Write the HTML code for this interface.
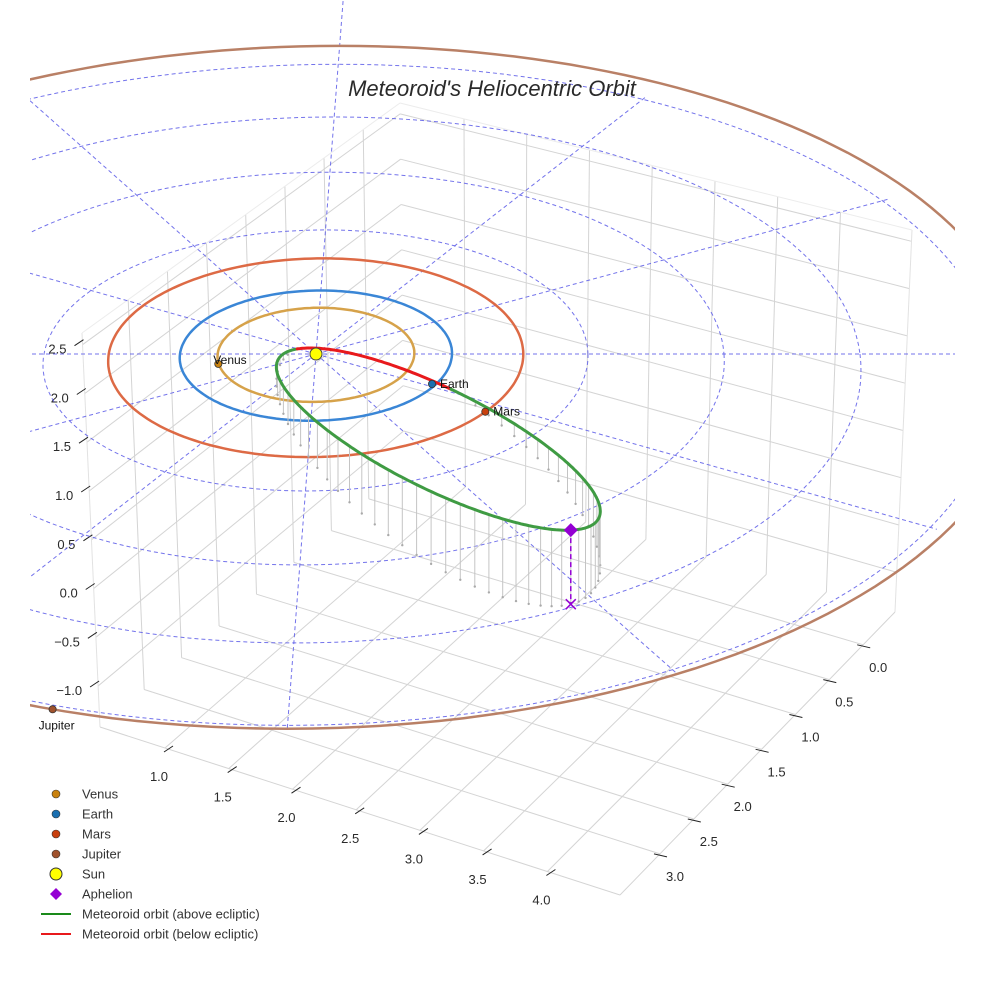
<!DOCTYPE html>
<html><head><meta charset="utf-8"><style>
html,body{margin:0;padding:0;background:#fff;}
svg{display:block;font-family:"Liberation Sans",sans-serif;}
</style></head><body>
<svg id="chart" width="984" height="984" viewBox="0 0 984 984" xmlns="http://www.w3.org/2000/svg">
<defs><clipPath id="sceneClip"><rect x="30" y="0" width="925" height="984"/></clipPath></defs>
<rect width="984" height="984" fill="#fff"/>
<g id="box"></g>
<g id="scene" clip-path="url(#sceneClip)"></g>
<text x="492" y="96" text-anchor="middle" font-size="22" font-style="italic" fill="#2a2a2a">Meteoroid's Heliocentric Orbit</text>
<g id="legend"></g>
</svg>
<script>
// ---- data ----
const planetNames = ['Venus','Earth','Mars','Jupiter'];
const planetU = [-0.71, 0.86, 1.25, -1.53];
const planetV = [0.152, 0.456, 0.867, 4.81];
const orbitRadius = [0.723, 1.0, 1.524, 5.2];
const orbitCenterV = [0, 0, 0, -0.16];
const gridRings = [1, 2, 3, 4, 5];
const radialAngles = [0, 30, 60, 90, 120, 150, 180, 210, 240, 270, 300, 330];
const aphelion = [1.84, 3.51, 0.70];
const perihelionDist = [0.15];
const minorDir = [0.877, -0.414, -0.243];
const semiMinor = [0.75];
const xTicks = [1.0, 1.5, 2.0, 2.5, 3.0, 3.5, 4.0];
const yTicks = [0.0, 0.5, 1.0, 1.5, 2.0, 2.5, 3.0];
const zTicks = [-1.0, -0.5, 0.0, 0.5, 1.0, 1.5, 2.0, 2.5];
const xRange = [0.49, 4.57];
const yRange = [-0.47, 3.59];
const zRange = [-1.42, 2.62];

const NS = 'http://www.w3.org/2000/svg';
function mk(tag, attrs, parent){
  const e = document.createElementNS(NS, tag);
  for (const k in attrs) e.setAttribute(k, attrs[k]);
  parent.appendChild(e);
  return e;
}
const planetColors = ['#c9820f','#1a6fb0','#c8400e','#a0522d'];
const orbitColors = ['#d6a24a','#3a86d6','#dd6a45','#b98066'];

// ---- box projection (trilinear between corners) ----
const Fl = {D:[404,469], C:[895,612], B:[620,895], A:[100,727]};
const Tp = {D:[400,103], C:[912,230], B:[620,485], A:[82,333]};
function lerp(p,q,t){return [p[0]+(q[0]-p[0])*t, p[1]+(q[1]-p[1])*t];}
function bil(S,fx,fy){
  const a = lerp(S.D,S.C,fx), b = lerp(S.A,S.B,fx);
  return lerp(a,b,fy);
}
function boxP(x,y,z){
  const fx=(x-xRange[0])/(xRange[1]-xRange[0]);
  const fy=(y-yRange[0])/(yRange[1]-yRange[0]);
  const fz=(z-zRange[0])/(zRange[1]-zRange[0]);
  return lerp(bil(Fl,fx,fy), bil(Tp,fx,fy), fz);
}
const box = document.getElementById('box');
function bline(p,q,name,col,w){
  const l = mk('line',{x1:p[0].toFixed(1),y1:p[1].toFixed(1),x2:q[0].toFixed(1),y2:q[1].toFixed(1),stroke:col||'#d4d4d4','stroke-width':w||1},box);
  
  
}
xTicks.forEach(x=>bline(boxP(x,yRange[0],zRange[0]),boxP(x,yRange[1],zRange[0]),'floor-grid-x'));
yTicks.forEach(y=>bline(boxP(xRange[0],y,zRange[0]),boxP(xRange[1],y,zRange[0]),'floor-grid-y'));
yTicks.forEach(y=>bline(boxP(xRange[0],y,zRange[0]),boxP(xRange[0],y,zRange[1]),'left-wall-grid-y'));
zTicks.forEach(z=>bline(boxP(xRange[0],yRange[0],z),boxP(xRange[0],yRange[1],z),'left-wall-grid-z'));
xTicks.forEach(x=>bline(boxP(x,yRange[0],zRange[0]),boxP(x,yRange[0],zRange[1]),'right-wall-grid-x'));
zTicks.forEach(z=>bline(boxP(xRange[0],yRange[0],z),boxP(xRange[1],yRange[0],z),'right-wall-grid-z'));
bline(boxP(xRange[0],yRange[1],zRange[0]),boxP(xRange[0],yRange[1],zRange[1]),'box-edge','#e2e2e2');
bline(boxP(xRange[1],yRange[0],zRange[0]),boxP(xRange[1],yRange[0],zRange[1]),'box-edge','#e2e2e2');
bline(boxP(xRange[0],yRange[1],zRange[1]),boxP(xRange[0],yRange[0],zRange[1]),'box-edge','#ececec');
bline(boxP(xRange[0],yRange[0],zRange[1]),boxP(xRange[1],yRange[0],zRange[1]),'box-edge','#ececec');
bline(boxP(xRange[0],yRange[1],zRange[0]),boxP(xRange[1],yRange[1],zRange[0]),'box-edge','#d4d4d4');
bline(boxP(xRange[1],yRange[0],zRange[0]),boxP(xRange[1],yRange[1],zRange[0]),'box-edge','#d4d4d4');

function tickLabel(p,txt,name,anchor){
  const t = mk('text',{x:p[0].toFixed(1),y:p[1].toFixed(1),'font-size':13,fill:'#2a2a2a','text-anchor':anchor||'middle'},box);
  t.textContent = txt;
  
  
}
xTicks.forEach(x=>{
  const p = boxP(x,yRange[1],zRange[0]);
  bline([p[0]-1,p[1]+4],[p[0]+8,p[1]-2],'x-axis-tick','#222');
  tickLabel([p[0]-6,p[1]+33],x.toFixed(1),'x-tick-label');
});
yTicks.forEach(y=>{
  const p = boxP(xRange[1],y,zRange[0]);
  bline([p[0]-6,p[1]],[p[0]+7,p[1]+3],'y-axis-tick','#222');
  tickLabel([p[0]+15,p[1]+27],y.toFixed(1),'y-tick-label');
});
zTicks.forEach(z=>{
  const p = boxP(xRange[0],yRange[1],z);
  bline([p[0]-8,p[1]+1],[p[0]+1,p[1]-5],'z-axis-tick','#222');
  tickLabel([p[0]-16,p[1]+9],z.toFixed(1).replace('-','\u2212'),'z-tick-label','end');
});

// ---- ecliptic scene projection ----
const PC = 0.0247;
function P(u,v,z){
  const s = 1/(1-PC*v);
  return [316+(136*u-5*v)*s, 354+(65.1*v-96.6*z)*s];
}
const scene = document.getElementById('scene');
function pathFrom(pts){return pts.map((p,i)=>(i?'L':'M')+p[0].toFixed(1)+' '+p[1].toFixed(1)).join(' ');}

gridRings.forEach(r=>{
  const pts=[];
  for(let k=0;k<=180;k++){const t=k/180*2*Math.PI; pts.push(P(r*Math.cos(t), r*Math.sin(t), 0));}
  const e = mk('path',{d:pathFrom(pts),fill:'none',stroke:'#5a5ae8','stroke-width':1,'stroke-dasharray':'4,3',opacity:0.85},scene);
  
  
});
radialAngles.forEach(a=>{
  const t=a*Math.PI/180;
  const L = (a===270) ? 7 : (a===0 || a===180 ? 6 : 5.05);
  const p0=P(0,0,0), p1=P(L*Math.cos(t),L*Math.sin(t),0);
  const e = mk('path',{d:pathFrom([p0,p1]),fill:'none',stroke:'#5a5ae8','stroke-width':1,'stroke-dasharray':'4,3',opacity:0.85},scene);
  
  
});
orbitRadius.forEach((r,i)=>{
  const pts=[];
  for(let k=0;k<=200;k++){const t=k/200*2*Math.PI; pts.push(P(r*Math.cos(t), orbitCenterV[i]+r*Math.sin(t), 0));}
  const e = mk('path',{d:pathFrom(pts),fill:'none',stroke:orbitColors[i],'stroke-width':2.5},scene);
  
  
});

// meteoroid orbit
const Q = Math.hypot(aphelion[0],aphelion[1],aphelion[2]);
const d = aphelion.map(c=>c/Q);
const q = perihelionDist[0];
const a = (Q+q)/2;
let dotB = minorDir[0]*d[0]+minorDir[1]*d[1]+minorDir[2]*d[2];
let B = minorDir.map((c,k)=>c-dotB*d[k]);
const nB = Math.hypot(B[0],B[1],B[2]); B = B.map(c=>c/nB);
const b = semiMinor[0];
const cen = d.map(c=>c*(a-q));
const orbitPts=[];
for(let k=0;k<=360;k++){
  const E = k/360*2*Math.PI;
  orbitPts.push([0,1,2].map(j=>cen[j]-a*Math.cos(E)*d[j]+b*Math.sin(E)*B[j]));
}
const drops = mk('g',{},scene);


orbitPts.forEach((p,k)=>{
  if(k%5!==0 || p[2]<=0.02) return;
  const p0=P(p[0],p[1],p[2]), p1=P(p[0],p[1],0);
  const l = mk('line',{x1:p0[0].toFixed(1),y1:p0[1].toFixed(1),x2:p1[0].toFixed(1),y2:p1[1].toFixed(1),stroke:'#c4c4c4','stroke-width':1},drops);
  
  
  const c = mk('circle',{cx:p1[0].toFixed(1),cy:p1[1].toFixed(1),r:1.2,fill:'#aaa'},drops);
  
  
});
let seg=[orbitPts[0]], above = orbitPts[0][2]>=0;
function flush(s,ab){
  const e = mk('path',{d:pathFrom(s.map(p=>P(p[0],p[1],p[2]))),fill:'none',stroke:ab?'#3f9b43':'#e8191c','stroke-width':3,'stroke-linecap':'round'},scene);
  
  
}
for(let k=1;k<orbitPts.length;k++){
  const ab = orbitPts[k][2]>=0;
  seg.push(orbitPts[k]);
  if(ab!==above){flush(seg,above); seg=[orbitPts[k]]; above=ab;}
}
flush(seg,above);

const ap = P(aphelion[0],aphelion[1],aphelion[2]), ap0 = P(aphelion[0],aphelion[1],0);
let e = mk('line',{x1:ap[0],y1:ap[1],x2:ap0[0],y2:ap0[1],stroke:'#9400d3','stroke-width':1.5,'stroke-dasharray':'5,3'},scene);


e = mk('path',{d:`M${ap0[0]-5} ${ap0[1]-5}L${ap0[0]+5} ${ap0[1]+5}M${ap0[0]+5} ${ap0[1]-5}L${ap0[0]-5} ${ap0[1]+5}`,stroke:'#9400d3','stroke-width':1.5},scene);


e = mk('path',{d:`M${ap[0]} ${ap[1]-7}L${ap[0]+7} ${ap[1]}L${ap[0]} ${ap[1]+7}L${ap[0]-7} ${ap[1]}Z`,fill:'#9400d3'},scene);



const sp = P(0,0,0);
e = mk('circle',{cx:sp[0],cy:sp[1],r:6,fill:'#ffff00',stroke:'#444','stroke-width':1},scene);



planetNames.forEach((n,i)=>{
  const p = P(planetU[i],planetV[i],0);
  const c = mk('circle',{cx:p[0].toFixed(1),cy:p[1].toFixed(1),r:3.6,fill:planetColors[i],stroke:'#333','stroke-width':0.8},scene);
  
  
  let tx=p[0]+8, ty=p[1]+4, anc='start';
  if(n==='Venus'){tx=p[0]-5; ty=p[1]+0;}
  if(n==='Jupiter'){tx=p[0]+4; ty=p[1]+20; anc='middle';}
  const t = mk('text',{x:tx.toFixed(1),y:ty.toFixed(1),'font-size':12,fill:'#111','text-anchor':anc},scene);
  t.textContent = n;
  
  
});

const legend = document.getElementById('legend');
const legendLabels = ['Venus','Earth','Mars','Jupiter','Sun','Aphelion','Meteoroid orbit (above ecliptic)','Meteoroid orbit (below ecliptic)'];
legendLabels.forEach((lab,i)=>{
  const y = 794 + 20*i;
  const g = mk('g',{},legend);
  
  
  let m;
  if(i<4) m = mk('circle',{cx:56,cy:y,r:4,fill:planetColors[i],stroke:'#333','stroke-width':0.6},g);
  else if(i===4) m = mk('circle',{cx:56,cy:y,r:6,fill:'#ffff00',stroke:'#333','stroke-width':1},g);
  else if(i===5) m = mk('path',{d:`M56 ${y-6}L62 ${y}L56 ${y+6}L50 ${y}Z`,fill:'#9400d3'},g);
  else m = mk('line',{x1:41,y1:y,x2:71,y2:y,stroke:i===6?'#1a8a1a':'#e8191c','stroke-width':2},g);
  
  
  const t = mk('text',{x:82,y:y+4.5,'font-size':13,fill:'#333'},g);
  t.textContent = lab;
  
  
});
</script>
</body></html>
